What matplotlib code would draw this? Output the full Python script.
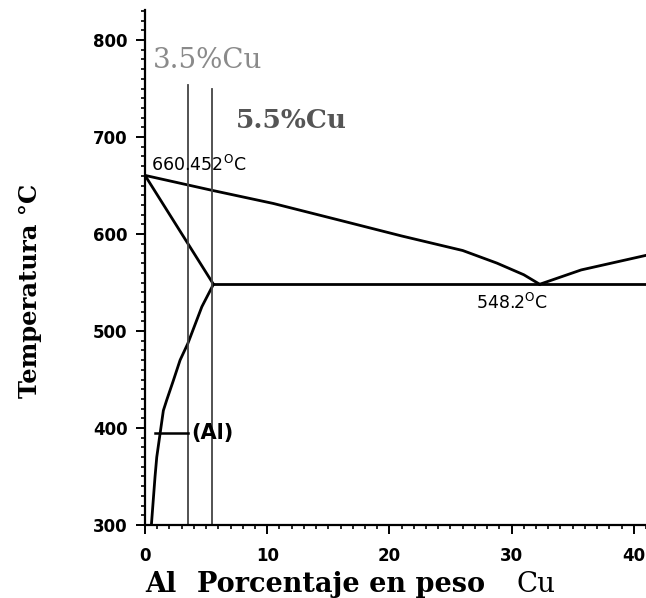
import matplotlib
matplotlib.use("Agg")
import matplotlib.pyplot as plt
from matplotlib.ticker import MultipleLocator

# Diagrama de fases Al-Cu (lado rico en aluminio)
liq_x = [0, 5.5, 10.5, 16, 21, 26, 28.8, 31, 32.3]
liq_T = [660.452, 645, 631.5, 614, 598, 583, 570, 558, 548.2]
liq2_x = [32.3, 35.7, 41]
liq2_T = [548.2, 563, 578]
sol_x = [0, 5.6]
sol_T = [660.452, 548.2]
solvus_x = [5.6, 4.65, 3.5, 2.87, 2.32, 1.78, 1.5, 1.23, 0.96, 0.82, 0.52]
solvus_T = [548.2, 525, 487, 470, 449, 429, 418, 394, 370, 350, 300]
eut_x = [5.6, 41]
eut_T = 548.2
T_fusion = 660.452

aleaciones = [3.5, 5.5]
tope_lineas = [754, 750]
etiquetas = ["3.5%Cu", "5.5%Cu"]

fig = plt.figure(figsize=(6.46, 5.98), dpi=100)
ax = fig.add_axes([0.2245, 0.1221, 0.7755, 0.8612])
ax.set_xlim(0, 41)

lw = 2.0
ax.plot(liq_x, liq_T, color="black", lw=lw, solid_joinstyle="round")
ax.plot(liq2_x, liq2_T, color="black", lw=lw)
ax.plot(sol_x, sol_T, color="black", lw=lw)
ax.plot(solvus_x, solvus_T, color="black", lw=lw, solid_joinstyle="round")
ax.plot(eut_x, [eut_T, eut_T], color="black", lw=lw)

# lineas de composicion de las aleaciones
for x, top in zip(aleaciones, tope_lineas):
    ax.plot([x, x], [300, top], color="#444444", lw=1.3)

ax.text(0.66, 779, etiquetas[0], fontsize=20, family="DejaVu Serif",
        color="#8a8a8a", va="center", ha="left")
ax.text(7.4, 717, etiquetas[1], fontsize=19, family="DejaVu Serif",
        fontweight="bold", color="#555555", va="center", ha="left")

ax.text(0.5, 671, f"{T_fusion}" + r"$^{\mathregular{O}}$C", fontsize=12.5,
        family="DejaVu Sans", va="center", ha="left")
ax.text(27.1, 529, f"{eut_T}" + r"$^{\mathregular{O}}$C", fontsize=12.5,
        family="DejaVu Sans", va="center", ha="left")

# indicador de la fase (Al)
ax.plot([0.85, 3.5], [395, 395], color="black", lw=1.8)
ax.text(3.8, 395, "(Al)", fontsize=15, family="DejaVu Sans",
        fontweight="bold", va="center", ha="left")

for s in ["top", "right"]:
    ax.spines[s].set_visible(False)
for s in ["left", "bottom"]:
    ax.spines[s].set_linewidth(1.6)

ax.xaxis.set_major_locator(MultipleLocator(10))
ax.xaxis.set_minor_locator(MultipleLocator(1))
ax.yaxis.set_major_locator(MultipleLocator(100))
ax.yaxis.set_minor_locator(MultipleLocator(10))
ax.set_ylim(300, 831)
ax.tick_params(which="major", direction="out", length=6.5, width=1.4,
               labelsize=12)
ax.tick_params(which="minor", direction="out", length=3, width=1.2)
ax.tick_params(axis="y", which="major", pad=6)
ax.tick_params(axis="x", which="major", pad=9)
for lab in ax.get_xticklabels() + ax.get_yticklabels():
    lab.set_fontweight("bold")

ax.set_ylabel("Temperatura °C", fontsize=17.5, family="DejaVu Serif",
              fontweight="bold")
ax.yaxis.set_label_coords(-0.205, 0.455)

fig.text(145 / 646, 1 - 584 / 598, "Al", fontsize=19.5, family="DejaVu Serif",
         fontweight="bold", va="center", ha="left")
fig.text(197 / 646, 1 - 584 / 598, "Porcentaje en peso", fontsize=19.5,
         family="DejaVu Serif", fontweight="bold", va="center", ha="left")
fig.text(516 / 646, 1 - 584 / 598, "Cu", fontsize=20, family="DejaVu Serif",
         va="center", ha="left")

fig.savefig("out.png", dpi=100)
